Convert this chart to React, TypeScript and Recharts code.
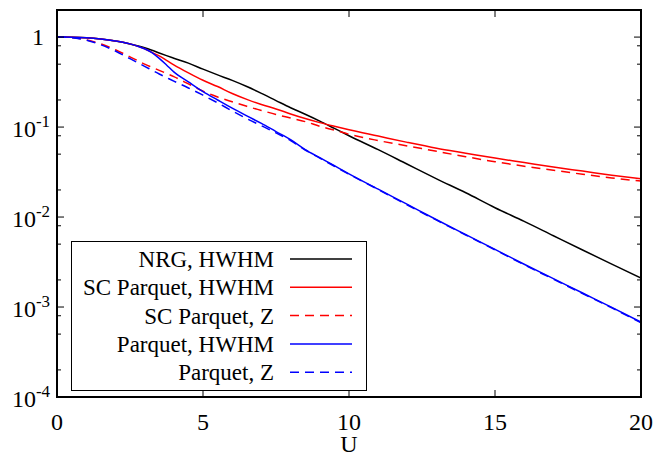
import React from 'react';
import { LineChart, Line, XAxis, YAxis, Legend } from 'recharts';

// Interaction strength U
const U = [0, 0.5, 1, 1.5, 2, 2.5, 2.75, 3, 3.25, 3.5, 3.75, 4, 4.5, 5, 5.5, 6, 6.5, 7, 7.5, 8, 8.5, 9, 9.5, 10,
  11, 12, 13, 14, 15, 16, 17, 18, 19, 20];

// NRG, HWHM
const nrgHWHM = [1, 0.997, 0.984, 0.952, 0.905, 0.84, 0.802, 0.76, 0.713, 0.665, 0.622, 0.583, 0.513, 0.44, 0.38, 0.33, 0.282, 0.237, 0.197, 0.164, 0.139, 0.1166, 0.0966, 0.08,
  0.0561, 0.0386, 0.0266, 0.0186, 0.0127, 0.00895, 0.0062, 0.0043, 0.003, 0.0021];
// SC Parquet, HWHM
const scParquetHWHM = [1, 0.997, 0.984, 0.952, 0.905, 0.84, 0.794, 0.741, 0.676, 0.617, 0.552, 0.492, 0.4, 0.331, 0.282, 0.236, 0.203, 0.178, 0.159, 0.14, 0.1245, 0.112, 0.102, 0.0933,
  0.0794, 0.0676, 0.0582, 0.0513, 0.0452, 0.0403, 0.0359, 0.0324, 0.0292, 0.0266];
// SC Parquet, Z
const scParquetZ = [1, 0.989, 0.933, 0.841, 0.724, 0.603, 0.55, 0.501, 0.462, 0.427, 0.394, 0.363, 0.302, 0.251, 0.216, 0.191, 0.17, 0.153, 0.138, 0.126, 0.115, 0.102, 0.0923, 0.0832,
  0.0708, 0.0617, 0.0537, 0.0468, 0.0412, 0.0367, 0.0331, 0.0299, 0.0272, 0.0251];
// Parquet, HWHM
const parquetHWHM = [1, 0.997, 0.984, 0.952, 0.905, 0.84, 0.794, 0.741, 0.672, 0.58, 0.49, 0.41, 0.318, 0.248, 0.2, 0.162, 0.133, 0.11, 0.0891, 0.0724, 0.0562, 0.0457, 0.0372, 0.0302,
  0.0204, 0.0138, 0.00933, 0.00638, 0.00437, 0.00299, 0.00207, 0.00143, 0.00099, 0.00068];
// Parquet, Z
const parquetZ = [1, 0.986, 0.923, 0.822, 0.7, 0.575, 0.522, 0.473, 0.429, 0.389, 0.355, 0.324, 0.272, 0.226, 0.186, 0.151, 0.124, 0.1035, 0.0861, 0.0708, 0.0556, 0.0452, 0.0367, 0.0299,
  0.0202, 0.0136, 0.00923, 0.00631, 0.00432, 0.00295, 0.00204, 0.00141, 0.00098, 0.000668];

const xTicks = [0, 5, 10, 15, 20];
const yMajor = [1, 0.1, 0.01, 0.001, 0.0001];
const yMinor = [0.8, 0.5, 0.2, 0.08, 0.05, 0.02, 0.008, 0.005, 0.002, 0.0008, 0.0005, 0.0002];
const yTicks = [...yMajor, ...yMinor];

const series = [
  { key: 'nrg', name: 'NRG, HWHM', color: '#000000', dash: undefined as string | undefined },
  { key: 'scH', name: 'SC Parquet, HWHM', color: '#ff0000', dash: undefined },
  { key: 'scZ', name: 'SC Parquet, Z', color: '#ff0000', dash: '9 6' },
  { key: 'pH', name: 'Parquet, HWHM', color: '#0000ff', dash: undefined },
  { key: 'pZ', name: 'Parquet, Z', color: '#0000ff', dash: '9 6' },
];

const data = U.map((u, i) => ({
  U: u,
  nrg: nrgHWHM[i],
  scH: scParquetHWHM[i],
  scZ: scParquetZ[i],
  pH: parquetHWHM[i],
  pZ: parquetZ[i],
}));

// Serif text: drawn at a base size of 16px and scaled to the wanted size
const BASE = 16;
const SerifText = ({ x, y, size, anchor, children }: any) => (
  <text
    transform={`translate(${x},${y}) scale(${size / BASE})`}
    x={0}
    y={0}
    textAnchor={anchor || 'start'}
    style={{ fontFamily: 'Liberation Serif', fontSize: BASE, fill: '#000' }}
  >
    {children}
  </text>
);

const LeftTick = (props: any) => {
  const { x, y, payload } = props;
  const v = payload.value;
  const major = yMajor.includes(v);
  const exp = Math.round(Math.log10(v));
  return (
    <g>
      {v !== 0.0001 && (
        <line x1={x} x2={x + (major ? 7 : 4)} y1={y} y2={y} stroke="#000" strokeWidth={1} />
      )}
      {major && exp === 0 && (
        <SerifText x={x - 13} y={y + 8} size={24} anchor="end">1</SerifText>
      )}
      {major && exp !== 0 && (
        <SerifText x={x - 7} y={y + 10} size={24} anchor="end">
          <tspan>10</tspan>
          <tspan dy={-6.7} style={{ fontSize: 11.3 }}>{String(exp)}</tspan>
        </SerifText>
      )}
    </g>
  );
};

const RightTick = (props: any) => {
  const { x, y, payload } = props;
  const v = payload.value;
  const major = yMajor.includes(v);
  if (v === 0.0001) return <g />;
  return <line x1={x} x2={x - (major ? 7 : 4)} y1={y} y2={y} stroke="#000" strokeWidth={1} />;
};

const BottomTick = (props: any) => {
  const { x, y, payload } = props;
  const v = payload.value;
  return (
    <g>
      {v > 0 && v < 20 && <line x1={x} x2={x} y1={y} y2={y - 7} stroke="#000" strokeWidth={1} />}
      <SerifText x={x} y={y + 33} size={24} anchor="middle">{String(v)}</SerifText>
    </g>
  );
};

const TopTick = (props: any) => {
  const { x, y, payload } = props;
  const v = payload.value;
  if (v <= 0 || v >= 20) return <g />;
  return <line x1={x} x2={x} y1={y} y2={y + 7} stroke="#000" strokeWidth={1} />;
};

const LegendBox = () => (
  <svg width={296} height={150} style={{ display: 'block' }}>
    <rect x={0.5} y={0.5} width={295} height={149} fill="#fff" stroke="#000" strokeWidth={1} />
    {series.map((s, i) => {
      const cy = 18 + i * 28.3;
      return (
        <g key={s.key}>
          <SerifText x={203} y={cy + 8} size={23} anchor="end">{s.name}</SerifText>
          <line x1={219} x2={281} y1={cy} y2={cy} stroke={s.color} strokeWidth={1.5} strokeDasharray={s.dash} />
        </g>
      );
    })}
  </svg>
);

const XLabel = (props: any) => {
  const vb = props.viewBox || {};
  const cx = (vb.x ?? 0) + (vb.width ?? 0) / 2;
  const by = (vb.y ?? 0) + (vb.height ?? 0) - 6;
  return <SerifText x={cx} y={by} size={24} anchor="middle">U</SerifText>;
};

const axisLineStyle = { stroke: '#000', strokeWidth: 2, strokeLinecap: 'square' as const };

export default function App() {
  return (
    <div style={{ position: 'absolute', left: 0, top: 0, width: 656, height: 458, background: '#fff' }}>
      <LineChart
        width={656}
        height={458}
        data={data}
        margin={{ top: 0, right: 0, bottom: 0, left: 0 }}
      >
        <XAxis
          xAxisId="bottom"
          dataKey="U"
          type="number"
          domain={[0, 20]}
          allowDataOverflow
          ticks={xTicks}
          interval={0}
          height={61}
          tickSize={0}
          tickMargin={0}
          tickLine={false}
          tick={BottomTick}
          axisLine={axisLineStyle}
          label={<XLabel />}
        />
        <XAxis
          xAxisId="top"
          orientation="top"
          dataKey="U"
          type="number"
          domain={[0, 20]}
          allowDataOverflow
          ticks={xTicks}
          interval={0}
          height={10}
          tickSize={0}
          tickMargin={0}
          tickLine={false}
          tick={TopTick}
          axisLine={axisLineStyle}
        />
        <YAxis
          yAxisId="left"
          type="number"
          scale="log"
          domain={[0.0001, 2]}
          allowDataOverflow
          ticks={yTicks}
          interval={0}
          width={57}
          tickSize={0}
          tickMargin={0}
          tickLine={false}
          tick={LeftTick}
          axisLine={axisLineStyle}
        />
        <YAxis
          yAxisId="right"
          orientation="right"
          type="number"
          scale="log"
          domain={[0.0001, 2]}
          allowDataOverflow
          ticks={yTicks}
          interval={0}
          width={15}
          tickSize={0}
          tickMargin={0}
          tickLine={false}
          tick={RightTick}
          axisLine={axisLineStyle}
        />
        <Legend
          layout="vertical"
          verticalAlign="middle"
          align="center"
          content={LegendBox}
          wrapperStyle={{ position: 'absolute', left: 71, top: 241, width: 296, height: 150, margin: 0, padding: 0 }}
        />
        {series.map((s) => (
          <Line
            key={s.key}
            xAxisId="bottom"
            yAxisId="left"
            dataKey={s.key}
            name={s.name}
            type="monotone"
            stroke={s.color}
            strokeWidth={1.5}
            strokeDasharray={s.dash}
            dot={false}
            activeDot={false}
            isAnimationActive={false}
          />
        ))}
      </LineChart>
    </div>
  );
}
